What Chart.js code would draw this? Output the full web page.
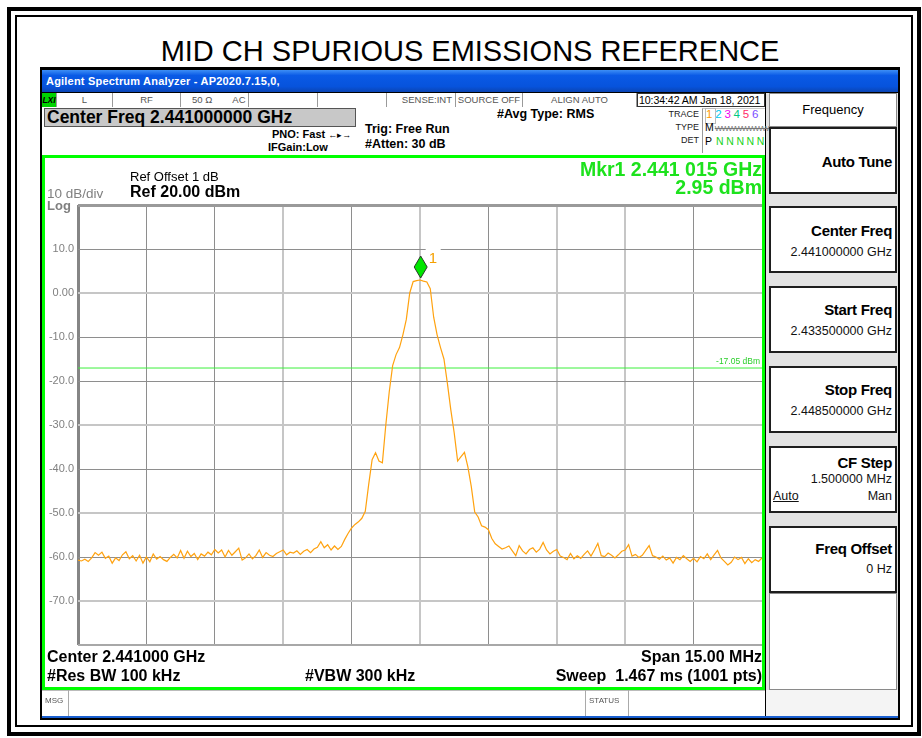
<!DOCTYPE html>
<html>
<head>
<meta charset="utf-8">
<title>MID CH SPURIOUS EMISSIONS REFERENCE</title>
<script src="https://cdn.jsdelivr.net/npm/chart.js@4.4.1/dist/chart.umd.min.js"></script>
<style>
  body { margin: 0; width: 922px; height: 738px; background: #fff; position: relative; overflow: hidden;
         font-family: "Liberation Sans", Arial, sans-serif; }
  .a { position: absolute; white-space: nowrap; line-height: 1; }
  .b { font-weight: bold; }
  .cell { position: absolute; top: 93px; height: 14px; border-right: 1px solid #9a9a9a; box-sizing: border-box; white-space: nowrap; overflow: hidden;
          font-size: 9.5px; line-height: 14px; color: #555; text-align: center; background: #fff; }
  .btn { position: absolute; left: 769px; width: 128px; background: #fff; border: 2px solid #1e1e1e; box-sizing: border-box; }
  .bt { position: absolute; right: 3px; font-weight: bold; font-size: 15px; line-height: 1; white-space: nowrap; letter-spacing: -0.3px; }
  .bv { position: absolute; right: 3px; font-size: 12.5px; line-height: 1; white-space: nowrap; color: #111; }
</style>
</head>
<body>

<!-- page frame -->
<div class="a" style="left:7px;top:7px;width:906px;height:721px;border:4px solid #000;"></div>
<div class="a" style="left:15px;top:15px;width:894px;height:708px;border:2px solid #000;"></div>

<div class="a" style="left:0;width:940px;top:37px;text-align:center;font-size:29px;color:#000;">MID CH SPURIOUS EMISSIONS REFERENCE</div>

<!-- analyzer window -->
<div class="a" style="left:40px;top:67px;width:860px;height:653px;background:#000;"></div>
<div class="a" style="left:42px;top:70px;width:856px;height:22px;background:linear-gradient(#3d8ef5,#0a5ae6 25%,#0753dc 75%,#0a45b4);"></div>
<div class="a b" style="left:46px;top:76px;font-size:11px;color:#fff;letter-spacing:0.2px;">Agilent Spectrum Analyzer - AP2020.7.15,0,</div>

<div class="a" style="left:42px;top:93px;width:723px;height:623px;background:#fff;"></div>
<div class="a" style="left:766px;top:93px;width:132px;height:623px;background:#e2e2e2;"></div>
<div class="a" style="left:766px;top:690px;width:132px;height:26px;background:#f4f4f4;"></div>
<div class="a" style="left:42px;top:716px;width:856px;height:2px;background:#1a5fd0;"></div>

<!-- status row -->
<div class="cell" style="left:42px;width:15px;background:#00d400;color:#000;font-weight:bold;font-style:italic;font-size:8.5px;">LXI</div>
<div class="cell" style="left:57px;width:56px;">L</div>
<div class="cell" style="left:113px;width:68px;">RF</div>
<div class="cell" style="left:181px;width:68px;text-align:left;padding-left:11px;">50 Ω<span style="margin-left:20px;">AC</span></div>
<div class="cell" style="left:249px;width:69px;"></div>
<div class="cell" style="left:318px;width:69px;"></div>
<div class="cell" style="left:387px;width:69px;text-align:right;padding-right:3px;">SENSE:INT</div>
<div class="cell" style="left:456px;width:67px;">SOURCE OFF</div>
<div class="cell" style="left:523px;width:114px;">ALIGN AUTO</div>
<div class="cell" style="left:637px;width:128px;border:1px solid #333;color:#000;font-size:10.6px;line-height:12px;text-align:left;padding-left:1px;letter-spacing:-0.1px;">10:34:42 AM Jan 18, 2021</div>

<!-- settings header -->
<div class="a" style="left:44px;top:108px;width:312px;height:19px;background:#c8c8c8;border:1px solid #555;box-sizing:border-box;"></div>
<div class="a b" style="left:47px;top:108.5px;font-size:17.5px;">Center Freq 2.441000000 GHz</div>
<div class="a b" style="left:272px;top:128.5px;font-size:11px;">PNO: Fast <span style="font-weight:normal;font-size:9px;">&larr;&#9656;&rarr;</span></div>
<div class="a b" style="left:268px;top:141.5px;font-size:11px;">IFGain:Low</div>
<div class="a b" style="left:365px;top:123px;font-size:12.5px;">Trig: Free Run</div>
<div class="a b" style="left:365px;top:138px;font-size:12.5px;">#Atten: 30 dB</div>
<div class="a b" style="left:497px;top:108px;font-size:12.5px;">#Avg Type: RMS</div>

<div class="a" style="right:223px;top:110px;font-size:9px;color:#222;">TRACE</div>
<div class="a" style="right:223px;top:123px;font-size:9px;color:#222;">TYPE</div>
<div class="a" style="right:223px;top:136px;font-size:9px;color:#222;">DET</div>
<div class="a" style="left:702px;top:108px;width:63px;height:45px;border-left:1px solid #999;border-top:1px solid #ccc;box-sizing:border-box;"></div>
<div class="a" style="left:705px;top:108px;width:9px;height:14px;border:1px solid #bbb;"></div>
<div class="a" style="left:706px;top:109px;font-size:11.5px;letter-spacing:2.8px;">
  <span style="color:#ff9a00;">1</span><span style="color:#00c8f0;">2</span><span style="color:#f000f0;">3</span><span style="color:#00c880;">4</span><span style="color:#ff2a6a;">5</span><span style="color:#7a4cff;">6</span></div>
<div class="a" style="left:705px;top:122px;font-size:10.5px;color:#000;">M<span style="color:#777;font-size:8px;letter-spacing:-0.8px;margin-left:1px;text-decoration:line-through;">WWWWWWWWWW</span></div>
<div class="a" style="left:705px;top:136px;font-size:10.5px;color:#000;">P<span style="color:#19d219;letter-spacing:2.6px;margin-left:4px;">NNNNN</span></div>

<!-- display -->
<canvas id="trace" width="717" height="529" style="position:absolute;left:45px;top:158px;"></canvas>
<div class="a" style="left:42px;top:155px;width:723px;height:535px;border:3px solid #00ff00;box-sizing:border-box;"></div>

<div class="a" style="left:130px;top:169.5px;font-size:13px;">Ref Offset 1 dB</div>
<div class="a b" style="left:130px;top:184px;font-size:16px;">Ref 20.00 dBm</div>
<div class="a" style="left:47px;top:186.5px;font-size:13.5px;color:#808080;">10 dB/div</div>
<div class="a b" style="left:47px;top:198.5px;font-size:13px;color:#808080;">Log</div>
<div class="a b" style="right:160px;top:159.5px;font-size:19.5px;color:#1de21d;">Mkr1 2.441 015 GHz</div>
<div class="a b" style="right:160px;top:177.5px;font-size:19.5px;color:#1de21d;">2.95 dBm</div>

<div class="a b" style="left:47px;top:649px;font-size:16px;">Center 2.441000 GHz</div>
<div class="a b" style="right:160px;top:649px;font-size:16px;">Span 15.00 MHz</div>
<div class="a b" style="left:47px;top:668px;font-size:16px;">#Res BW 100 kHz</div>
<div class="a b" style="left:305px;top:668px;font-size:16px;">#VBW 300 kHz</div>
<div class="a b" style="right:160px;top:668px;font-size:16px;">Sweep&nbsp; 1.467 ms (1001 pts)</div>

<!-- message bar -->
<div class="a" style="left:42px;top:690px;width:723px;height:26px;background:#fff;border-top:1px solid #bbb;box-sizing:border-box;"></div>
<div class="a" style="left:45px;top:697px;font-size:8px;color:#555;">MSG</div>
<div class="a" style="left:68px;top:690px;width:1px;height:26px;background:#aaa;"></div>
<div class="a" style="left:585px;top:690px;width:1px;height:26px;background:#aaa;"></div>
<div class="a" style="left:589px;top:697px;font-size:8px;color:#555;">STATUS</div>
<div class="a" style="left:628px;top:690px;width:1px;height:26px;background:#aaa;"></div>

<!-- soft keys -->
<div class="a" style="left:769px;top:93px;width:128px;height:34px;background:#fff;border:1px solid #8a8a8a;box-sizing:border-box;text-align:center;font-size:13px;line-height:32px;">Frequency</div>
<div class="btn" style="top:127px;height:67px;"><div class="bt" style="top:24.5px;">Auto Tune</div></div>
<div class="btn" style="top:206px;height:67px;"><div class="bt" style="top:14.5px;">Center Freq</div><div class="bv" style="top:37.5px;">2.441000000 GHz</div></div>
<div class="btn" style="top:286px;height:67px;"><div class="bt" style="top:13.5px;">Start Freq</div><div class="bv" style="top:36.5px;">2.433500000 GHz</div></div>
<div class="btn" style="top:366px;height:67px;"><div class="bt" style="top:13.5px;">Stop Freq</div><div class="bv" style="top:36.5px;">2.448500000 GHz</div></div>
<div class="btn" style="top:446px;height:67px;"><div class="bt" style="top:6.5px;">CF Step</div><div class="bv" style="top:24.5px;">1.500000 MHz</div>
  <div class="bv" style="top:41.5px;right:auto;left:2px;text-decoration:underline;">Auto</div><div class="bv" style="top:41.5px;">Man</div></div>
<div class="btn" style="top:526px;height:67px;"><div class="bt" style="top:12.5px;">Freq Offset</div><div class="bv" style="top:34.5px;">0 Hz</div></div>
<div class="a" style="left:769px;top:593px;width:128px;height:97px;background:#fff;border:1px solid #8a8a8a;box-sizing:border-box;"></div>

<script>
// trace, one value per 0.075 MHz from -7.5 to +7.5 MHz around centre
const levelsDbm = [
  -60.7, -60.9, -60.5, -61.0, -60.2, -59.0, -59.6, -58.9, -60.3, -59.8,
  -61.4, -60.2, -60.8, -59.5, -58.8, -60.4, -59.7, -60.9, -59.6, -61.4,
  -60.0, -61.1, -59.3, -60.5, -59.9, -60.6, -61.0, -60.1, -59.4, -60.2,
  -58.5, -60.3, -58.7, -59.9, -59.2, -60.6, -59.3, -59.8, -58.9, -59.5,
  -58.3, -59.1, -58.4, -60.0, -58.5, -59.6, -58.8, -58.0, -60.7, -60.2,
  -59.3, -60.4, -59.7, -58.4, -60.1, -59.0, -59.6, -59.9, -59.2, -58.8,
  -58.4, -59.5, -58.9, -59.1, -58.6, -59.4, -58.7, -58.3, -59.0, -58.2,
  -57.8, -56.5, -57.9, -57.2, -58.4, -57.5, -58.3, -57.6, -56.0, -54.6,
  -53.4, -52.6, -52.0, -51.2, -49.6, -43.5, -37.9, -36.3, -38.2, -38.6,
  -30.0, -22.5, -16.5, -14.0, -12.4, -9.5, -6.0, 0.0, 2.6, 2.8,
  2.95, 2.7, 2.5, 1.0, -5.5, -9.5, -12.4, -15.0, -20.5, -26.5,
  -31.8, -38.2, -37.2, -36.2, -39.5, -44.0, -49.8, -50.9, -52.9, -53.2,
  -53.8, -55.8, -57.0, -57.6, -58.2, -57.9, -57.5, -58.6, -59.7, -57.4,
  -58.6, -59.3, -58.3, -57.9, -58.9, -58.2, -56.7, -58.4, -59.3, -58.7,
  -58.3, -59.8, -60.1, -60.6, -59.2, -60.4, -59.7, -60.3, -59.4, -58.6,
  -59.8, -58.4, -56.9, -59.7, -59.9, -59.1, -59.6, -60.2, -59.5, -58.7,
  -58.4, -57.2, -59.8, -59.4, -60.1, -59.6, -58.5, -57.4, -59.7, -60.0,
  -60.5, -59.8, -60.7, -60.2, -61.4, -60.1, -60.6, -59.7, -60.4, -61.0,
  -60.3, -61.1, -59.9, -60.4, -59.3, -60.6, -59.5, -58.5, -60.2, -61.0,
  -61.8, -61.2, -60.0, -60.6, -60.1, -61.5, -60.4, -61.3, -60.6, -61.0,
  -60.2
];
const spanStartMHz = -7.5;
const spanStopMHz = 7.5;
const pointStepMHz = 0.075;
const divStepMHz = 1.5;

const refTopDbm = 20;
const refBottomDbm = -80;
const yTickLabels = ['', '10.0', '0.00', '-10.0', '-20.0', '-30.0', '-40.0', '-50.0', '-60.0', '-70.0', ''];

const limitDbm = -17.05;
const limitText = '-17.05 dBm';
const mkrOffsetMHz = 0.015;
const mkrDbm = 2.95;

// which graticule lines came out pale in the screenshot
const paleY = [0, -30, -50, -70];
const paleX = [-3, 0, 3, 4.5];
const near = (list, v) => list.some(t => Math.abs(t - v) < 0.01);

const tracePoints = levelsDbm.map((v, i) => ({ x: spanStartMHz + i * pointStepMHz, y: v }));
const limitPoints = [{ x: spanStartMHz, y: limitDbm }, { x: spanStopMHz, y: limitDbm }];

const markerPlugin = {
    id: 'markerPlugin',
    afterDatasetsDraw(chart) {
        const { ctx, scales: { x, y } } = chart;
        const px = x.getPixelForValue(mkrOffsetMHz);
        const py = y.getPixelForValue(mkrDbm);
        ctx.save();

        ctx.font = '8.5px "Liberation Sans", Arial';
        ctx.fillStyle = '#2ccf2c';
        ctx.textAlign = 'right';
        ctx.textBaseline = 'bottom';
        ctx.fillText(limitText, x.right - 2, y.getPixelForValue(limitDbm) - 2);

        ctx.fillStyle = '#fff';
        ctx.fillRect(px + 5, py - 33, 15, 5);

        ctx.beginPath();
        ctx.moveTo(px, py - 2);
        ctx.lineTo(px + 6.5, py - 13);
        ctx.lineTo(px, py - 24);
        ctx.lineTo(px - 6.5, py - 13);
        ctx.closePath();
        ctx.fillStyle = '#00e600';
        ctx.fill();
        ctx.lineWidth = 1;
        ctx.strokeStyle = '#2a3a2a';
        ctx.stroke();

        ctx.font = '15px "Liberation Sans", Arial';
        ctx.fillStyle = '#f5a000';
        ctx.textAlign = 'left';
        ctx.textBaseline = 'alphabetic';
        ctx.fillText('1', px + 8, py - 17);
        ctx.restore();
    }
};

new Chart(document.getElementById('trace').getContext('2d'), {
    type: 'line',
    data: {
        datasets: [
            { data: tracePoints, borderColor: '#ffa20f', borderWidth: 1.2, pointRadius: 0, tension: 0 },
            { data: limitPoints, borderColor: '#3cf03c', borderWidth: 1, pointRadius: 0 }
        ]
    },
    options: {
        responsive: false,
        animation: false,
        events: [],
        layout: { padding: { top: 47, right: 0, bottom: 0, left: 0 } },
        plugins: { legend: { display: false }, tooltip: { enabled: false } },
        scales: {
            x: {
                type: 'linear',
                min: spanStartMHz,
                max: spanStopMHz,
                ticks: { display: false, stepSize: divStepMHz },
                border: { display: false },
                grid: {
                    drawTicks: false,
                    color: ctx => ctx.index === 0 ? '#858585' : (near(paleX, ctx.tick.value) ? '#c6c6c6' : '#8e8e8e'),
                    lineWidth: ctx => ctx.index === 0 ? 3 : (near(paleX, ctx.tick.value) ? 2 : 1)
                },
                afterFit: s => { s.height = 42; }
            },
            y: {
                min: refBottomDbm,
                max: refTopDbm,
                ticks: {
                    stepSize: 10,
                    padding: 4,
                    color: '#808080',
                    font: { family: '"Liberation Sans", Arial', size: 11 },
                    callback: v => yTickLabels[Math.round((refTopDbm - v) / 10)]
                },
                border: { display: false },
                grid: {
                    drawTicks: false,
                    color: ctx => {
                        const v = ctx.tick.value;
                        if (v === refTopDbm) return '#9a9a9a';
                        if (v === refBottomDbm) return '#a8a8a8';
                        return near(paleY, v) ? '#c6c6c6' : '#8e8e8e';
                    },
                    lineWidth: ctx => {
                        const v = ctx.tick.value;
                        if (v === refTopDbm) return 3;
                        if (v === refBottomDbm) return 2;
                        return near(paleY, v) ? 2 : 1;
                    }
                },
                afterFit: s => { s.width = 33; }
            }
        }
    },
    plugins: [markerPlugin]
});
</script>
</body>
</html>
